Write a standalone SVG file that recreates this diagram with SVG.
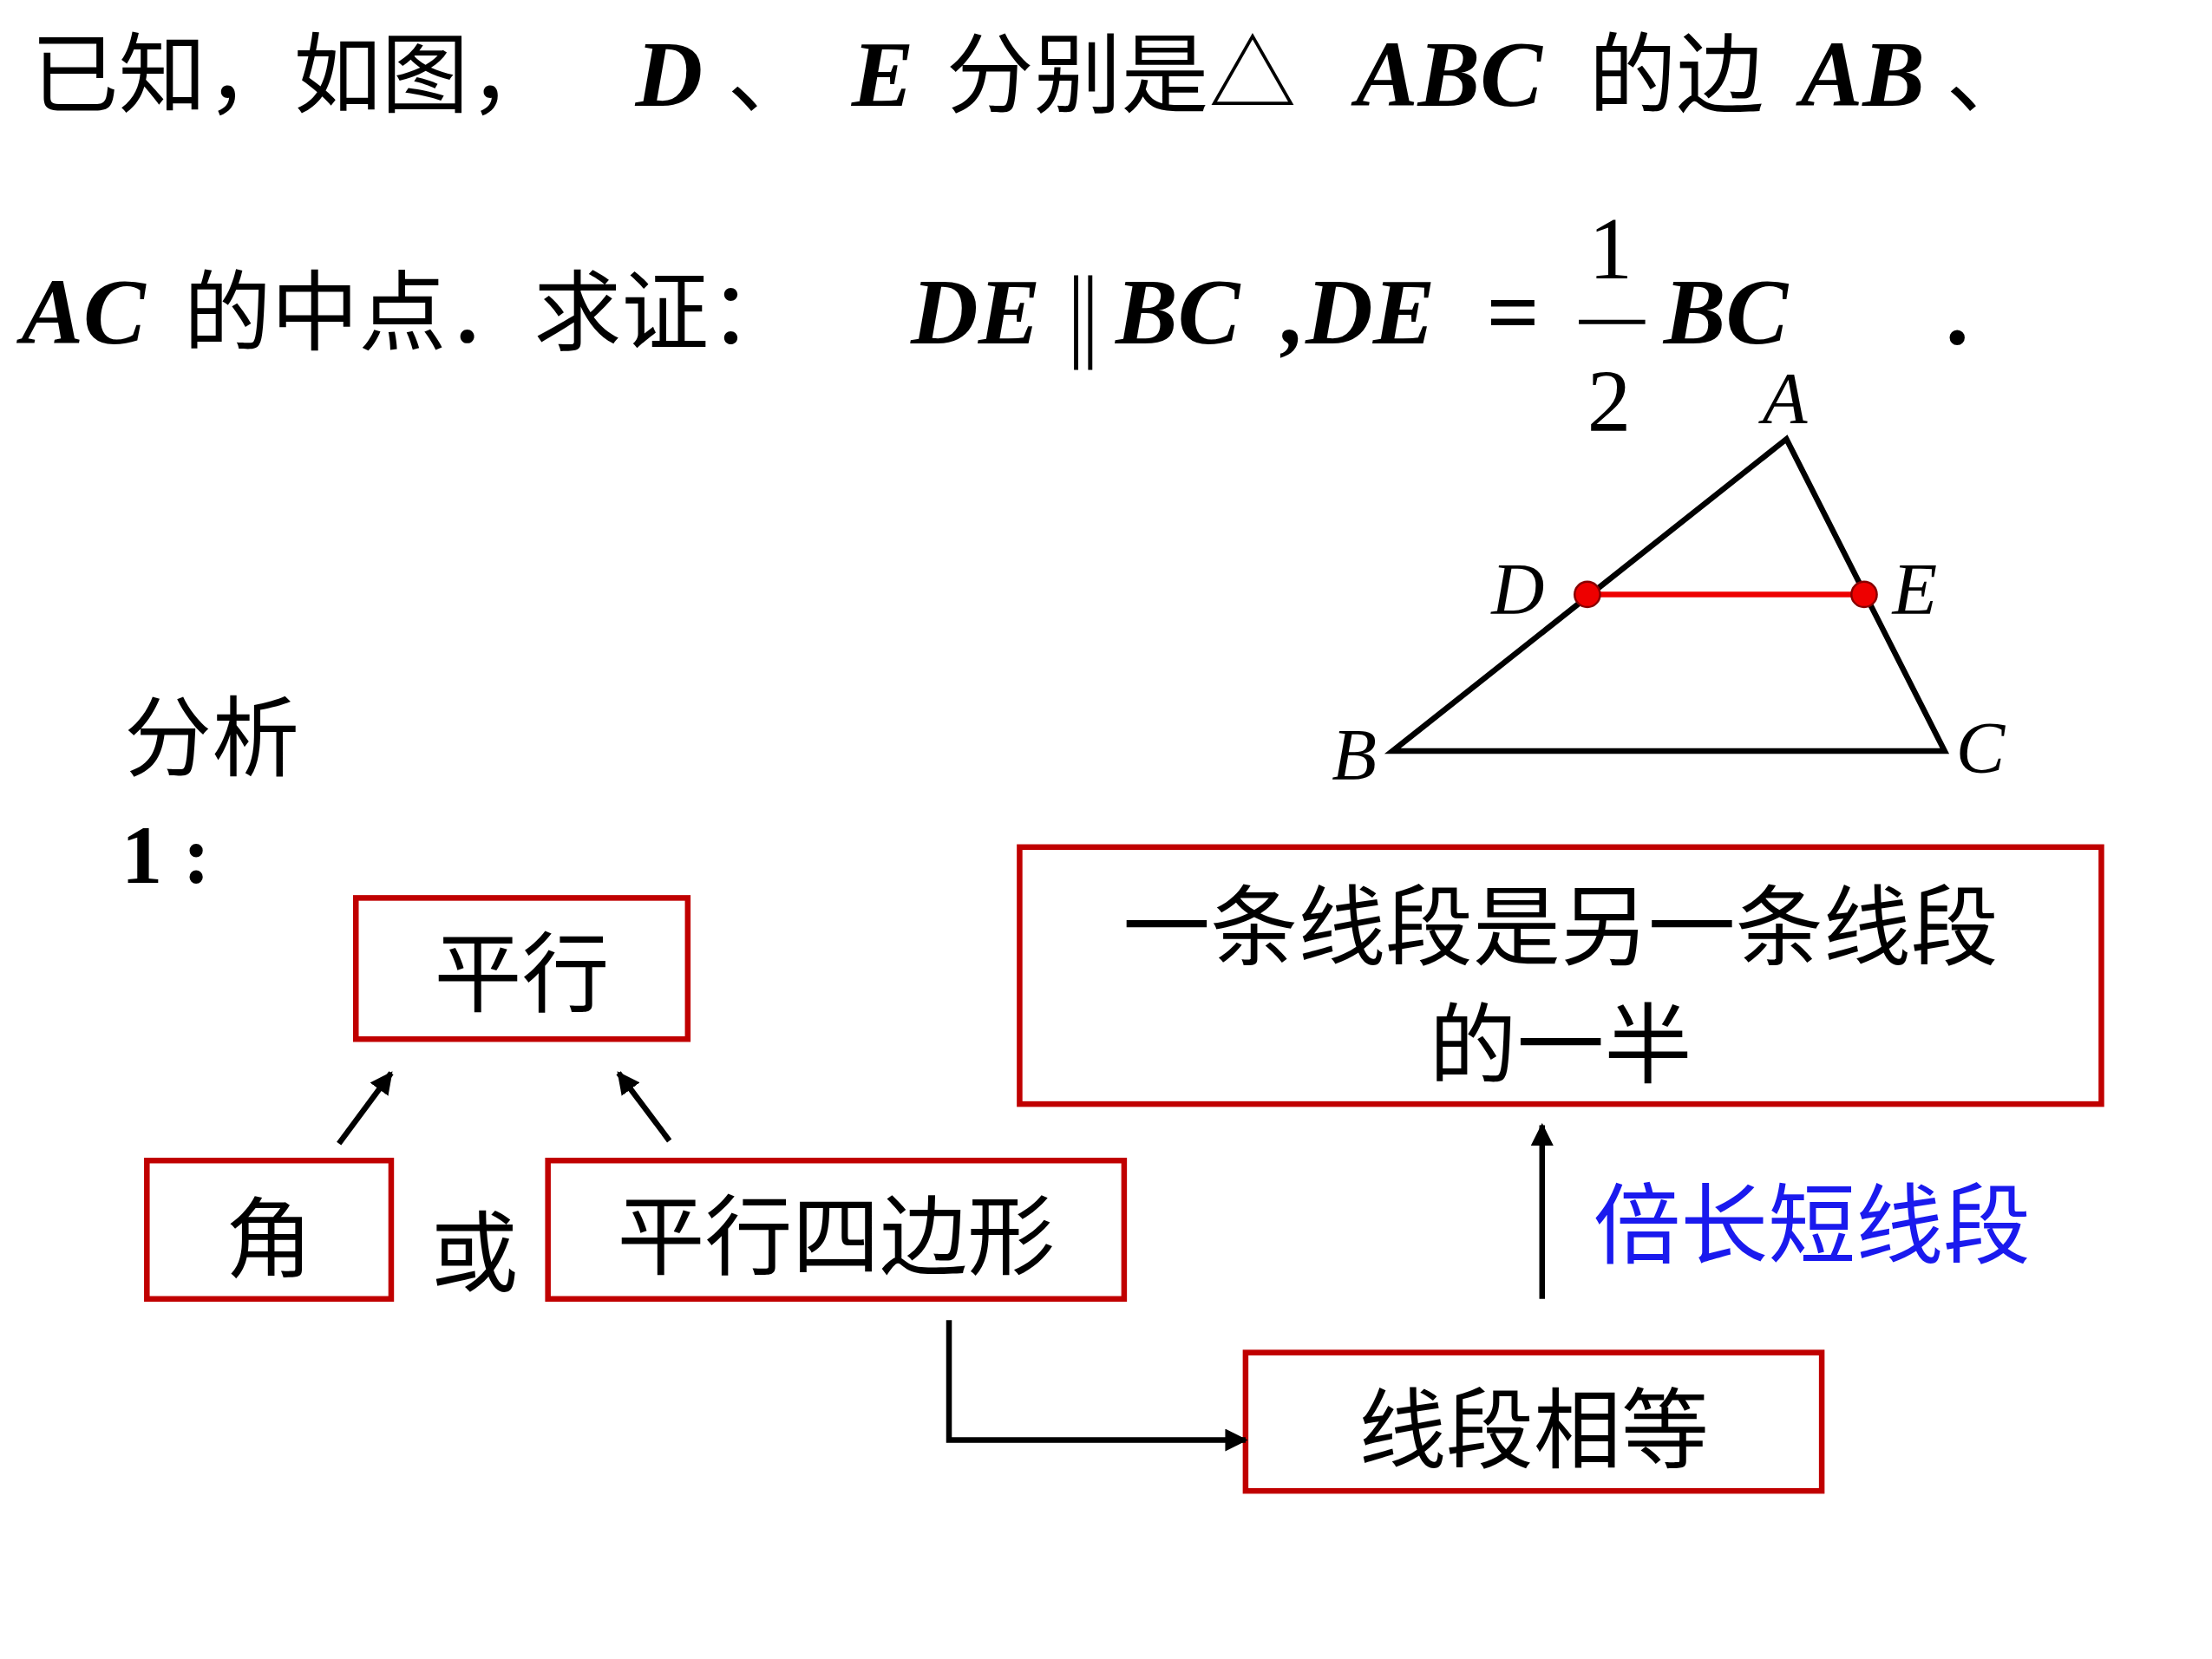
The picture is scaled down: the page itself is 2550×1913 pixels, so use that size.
<svg xmlns="http://www.w3.org/2000/svg" width="2550" height="1913" viewBox="0 0 2550 1913">
<defs>
<style>
.cn{font-family:"Liberation Serif","Noto Sans CJK SC",serif;font-size:62px;fill:#000}
.bi{font-family:"Liberation Serif",serif;font-size:66px;font-weight:bold;font-style:italic;fill:#000}
.it{font-family:"Liberation Serif",serif;font-size:52px;font-style:italic;fill:#000}
.box{fill:none;stroke:#c00000;stroke-width:4}
.ln{stroke:#000;stroke-width:4;fill:none}
</style>
<marker id="ah" viewBox="0 0 10 10" refX="9" refY="5" markerWidth="4" markerHeight="4" orient="auto"><path d="M0,0L10,5L0,10z" fill="#000"/></marker>
</defs>
<rect width="2550" height="1913" fill="#fff"/>
<g transform="scale(1.628)">
<g id="title">
<text class="cn" x="22" y="75">已知，如图，</text>
<text class="bi" x="450" y="75">D</text>
<text class="cn" x="515" y="75">、</text>
<text class="bi" x="603" y="75">E</text>
<text class="cn" x="670" y="75">分别是△</text>
<text class="bi" x="960" y="75">ABC</text>
<text class="cn" x="1125" y="75">的边</text>
<text class="bi" x="1275" y="75">AB</text>
<text class="cn" x="1378" y="75">、</text>
<text class="bi" x="15" y="243">AC</text>
<text class="cn" x="130" y="243">的中点．求证：</text>
<text class="bi" x="645" y="243">DE</text>
<line x1="762" y1="195" x2="762" y2="262" stroke="#000" stroke-width="3"/>
<line x1="772" y1="195" x2="772" y2="262" stroke="#000" stroke-width="3"/>
<text class="bi" x="790" y="243">BC</text>
<text class="bi" x="908" y="243">,DE</text>
<text class="bi" x="1052" y="243">=</text>
<text font-family="Liberation Serif,serif" font-size="62" x="1125" y="197">1</text>
<line x1="1118" y1="228" x2="1165" y2="228" stroke="#000" stroke-width="3"/>
<text font-family="Liberation Serif,serif" font-size="62" x="1124" y="305">2</text>
<text class="bi" x="1178" y="243">BC</text>
<text class="bi" x="1380" y="243">.</text>
</g>
<g id="triangle">
<polygon points="1265,311 986,532 1377,532" fill="none" stroke="#000" stroke-width="4"/>
<line x1="1124" y1="421" x2="1320" y2="421" stroke="#e00" stroke-width="4"/>
<circle cx="1124" cy="421" r="9" fill="#e00" stroke="#800" stroke-width="1.5"/>
<circle cx="1320" cy="421" r="9" fill="#e00" stroke="#800" stroke-width="1.5"/>
<text class="it" x="1248" y="300">A</text>
<text class="it" x="1056" y="435">D</text>
<text class="it" x="1340" y="435">E</text>
<text class="it" x="943" y="552">B</text>
<text class="it" x="1385" y="547">C</text>
</g>
<g id="label">
<text class="cn" x="88" y="545">分析</text>
<text font-family="Liberation Serif,serif" font-weight="bold" font-size="58" x="86" y="625">1 :</text>
</g>
<g id="n1"><rect class="box" x="252" y="636" width="235" height="100"/><text class="cn" x="369.5" y="712" text-anchor="middle">平行</text></g>
<g id="n2"><rect class="box" x="104" y="822" width="173" height="98"/><text class="cn" x="190.5" y="900" text-anchor="middle">角</text></g>
<g id="or"><text class="cn" x="305" y="910">或</text></g>
<g id="n3"><rect class="box" x="388" y="822" width="408" height="98"/><text class="cn" x="592" y="898" text-anchor="middle">平行四边形</text></g>
<g id="n4"><rect class="box" x="722" y="600" width="766" height="182"/><text class="cn" x="1105" y="679" text-anchor="middle">一条线段是另一条线段</text><text class="cn" x="1105" y="762" text-anchor="middle">的一半</text></g>
<g id="n5"><rect class="box" x="882" y="958" width="408" height="98"/><text class="cn" x="1086" y="1035" text-anchor="middle">线段相等</text></g>
<g id="note"><text class="cn" x="1128" y="890" style="fill:#1a1aee">倍长短线段</text></g>
<g id="connectors">
<line class="ln" x1="240" y1="810" x2="277" y2="760" marker-end="url(#ah)"/>
<line class="ln" x1="474" y1="808" x2="438" y2="760" marker-end="url(#ah)"/>
<line class="ln" x1="1092" y1="920" x2="1092" y2="797" marker-end="url(#ah)"/>
<polyline class="ln" points="672,935 672,1020 882,1020" marker-end="url(#ah)"/>
</g>
</g>
</svg>
